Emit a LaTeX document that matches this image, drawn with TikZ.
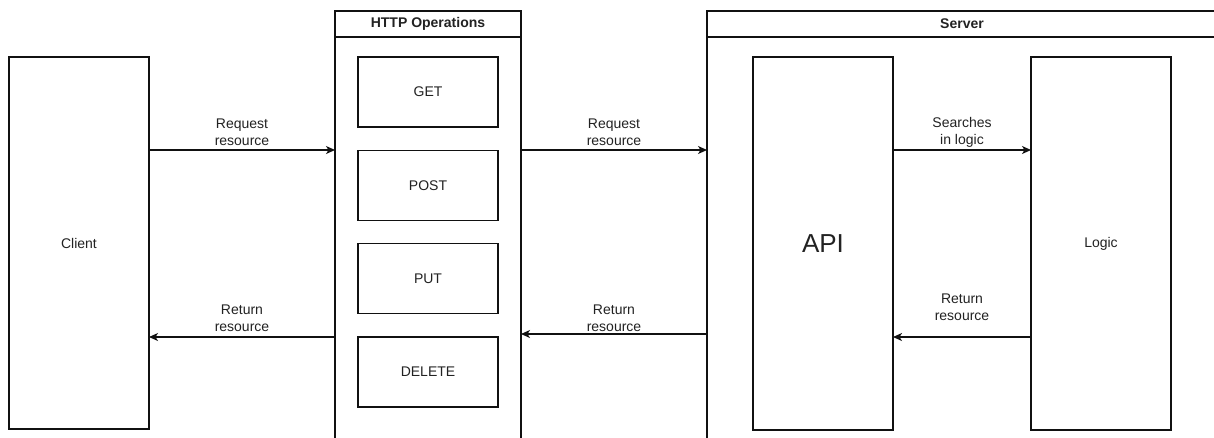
\documentclass[tikz,border=0pt]{standalone}
\usepackage{fontspec}
\setmainfont{Liberation Sans}
\usetikzlibrary{arrows.meta}
\definecolor{txt}{HTML}{222222}
\definecolor{ln}{HTML}{111111}
\begin{document}
\begin{tikzpicture}[x=1pt,y=-1pt,
  box/.style={draw=ln, line width=1.2pt, fill=white, outer sep=0pt, inner sep=0pt,
    font=\fontsize{14}{16.8}\selectfont, text=txt, align=center},
  hdr/.style={box, font=\bfseries\fontsize{14}{16.8}\selectfont},
  arr/.style={draw=ln, line width=1.2pt, -{Stealth[length=9pt,width=8pt,inset=2.5pt]}},
  lbl/.style={font=\fontsize{14}{16.8}\selectfont, text=txt, align=center, inner sep=0pt},
]
\useasboundingbox (0,0) rectangle (1214,437);
\fill[white] (0,0) rectangle (1214,437);
\clip (0,0) rectangle (1214,437);

% containers
\node[hdr, minimum width=186pt, minimum height=26pt, anchor=north west] (httphdr) at (335,11) {HTTP Operations};
\node[box, minimum width=186pt, minimum height=420pt, anchor=north west] (http) at (335,37) {};
\node[hdr, minimum width=510pt, minimum height=26pt, anchor=north west] (srvhdr) at (707,11) {Server};
\node[box, minimum width=520pt, minimum height=420pt, anchor=north west] (srv) at (707,37) {};

% boxes
\node[box, minimum width=140pt, minimum height=372pt] (client) at (79,243) {Client};
\node[box, minimum width=140pt, minimum height=70pt] (get) at (428,92) {GET};
\node[box, minimum width=140pt, minimum height=70pt] (post) at (428,185.3) {POST};
\node[box, minimum width=140pt, minimum height=70pt] (put) at (428,278.7) {PUT};
\node[box, minimum width=140pt, minimum height=70pt] (delete) at (428,372) {DELETE};
\node[box, minimum width=140pt, minimum height=373pt, font=\fontsize{26}{30}\selectfont] (api) at (823,243.5) {API};
\node[box, minimum width=140pt, minimum height=373pt] (logic) at (1101,243.5) {Logic};

% levels
\coordinate (rq) at (0,150);
\coordinate (rt) at (0,337);
\coordinate (rs) at (0,334);

% connectors
\draw[arr] (client.east |- rq) -- node[lbl, yshift=17.5pt] {Request\\resource} (http.west |- rq);
\draw[arr] (http.west |- rt) -- node[lbl, yshift=18.5pt] {Return\\resource} (client.east |- rt);
\draw[arr] (http.east |- rq) -- node[lbl, yshift=17.5pt] {Request\\resource} (srv.west |- rq);
\draw[arr] (srv.west |- rs) -- node[lbl, yshift=15.5pt] {Return\\resource} (http.east |- rs);
\draw[arr] (api.east |- rq) -- node[lbl, yshift=17.5pt] {Searches\\in logic} (logic.west |- rq);
\draw[arr] (logic.west |- rt) -- node[lbl, yshift=29.5pt] {Return\\resource} (api.east |- rt);
\end{tikzpicture}
\end{document}
